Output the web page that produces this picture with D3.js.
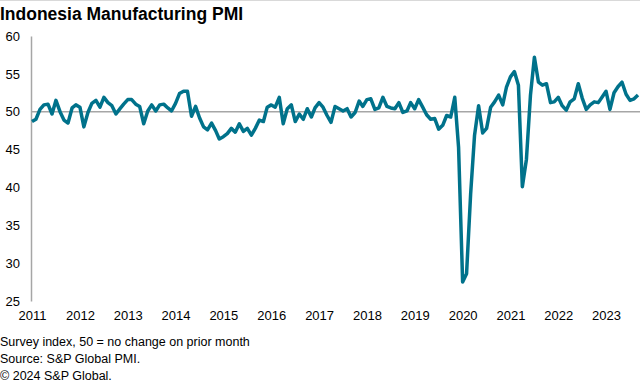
<!DOCTYPE html>
<head>
  <meta charset="utf-8">
  <title>Indonesia Manufacturing PMI</title>
  <style>
    body { margin: 0; background: #fff; }
    svg { font-family: "Liberation Sans", Arial, sans-serif; display: block; }
  </style>
</head>
<body>
<script src="https://cdn.jsdelivr.net/npm/d3@7"></script>
<script>

    // monthly PMI, Apr 2011 - Dec 2023
    var startMonth = "2011-04";
    var pmi2011 = [48.7, 49.0, 50.3, 50.9, 51.0, 49.7, 51.5, 50.0, 48.9];
    var pmi2012 = [48.5, 50.5, 50.9, 50.6, 48.0, 49.9, 51.1, 51.5, 50.6, 51.9, 51.2, 50.8];
    var pmi2013 = [49.7, 50.4, 51.0, 51.6, 51.6, 51.0, 50.7, 48.4, 50.1, 50.9, 50.1, 50.9];
    var pmi2014 = [51.0, 50.5, 50.1, 51.1, 52.4, 52.7, 52.7, 49.4, 50.7, 49.2, 48.0, 47.6];
    var pmi2015 = [48.5, 47.5, 46.4, 46.7, 47.1, 47.8, 47.3, 48.4, 47.4, 47.8, 46.9, 47.8];
    var pmi2016 = [48.9, 48.7, 50.6, 50.9, 50.6, 51.9, 48.4, 50.4, 50.9, 48.7, 49.7, 49.0];
    var pmi2017 = [50.4, 49.3, 50.5, 51.2, 50.6, 49.5, 48.6, 50.7, 50.4, 50.1, 50.4, 49.3];
    var pmi2018 = [49.9, 51.4, 50.7, 51.6, 51.7, 50.3, 50.5, 51.9, 50.7, 50.5, 50.4, 51.2];
    var pmi2019 = [49.9, 50.1, 51.2, 50.4, 51.6, 50.6, 49.6, 49.0, 49.1, 47.7, 48.2, 49.5];
    var pmi2020 = [49.3, 51.9, 45.3, 27.5, 28.6, 39.1, 46.9, 50.8, 47.2, 47.8, 50.6, 51.3];
    var pmi2021 = [52.2, 50.9, 53.2, 54.6, 55.3, 53.5, 40.1, 43.7, 52.2, 57.2, 53.9, 53.5];
    var pmi2022 = [53.7, 51.2, 51.3, 51.9, 50.8, 50.2, 51.3, 51.7, 53.7, 51.8, 50.3, 50.9];
    var pmi2023 = [51.3, 51.2, 51.9, 52.7, 50.3, 52.5, 53.3, 53.9, 52.3, 51.5, 51.7, 52.2];

    var yTicks = [25, 30, 35, 40, 45, 50, 55, 60];
    var yearLabels = ["2011", "2012", "2013", "2014", "2015", "2016", "2017",
                      "2018", "2019", "2020", "2021", "2022", "2023"];
    var notes = ["Survey index, 50 = no change on prior month",
                 "Source: S&P Global PMI.",
                 "\u00a9 2024 S&P Global."];

    var values = [].concat(pmi2011, pmi2012, pmi2013, pmi2014, pmi2015, pmi2016,
                           pmi2017, pmi2018, pmi2019, pmi2020, pmi2021, pmi2022, pmi2023);

    var parseMonth = d3.timeParse("%Y-%m");
    var data = values.map(function(v, i) {
        return { date: d3.timeMonth.offset(parseMonth(startMonth), i), value: v };
    });

    var width = 640, height = 384;
    var plot = { left: 31, right: 638, top: 36, bottom: 301 };

    var x = d3.scaleTime()
        .domain(d3.extent(data, function(d) { return d.date; }))
        .range([plot.left + 1, plot.right]);

    var y = d3.scaleLinear()
        .domain([25, 60])
        .range([plot.bottom, plot.top]);

    var svg = d3.select("body").append("svg")
        .attr("width", width)
        .attr("height", height);

    // thin rule along the top edge
    svg.append("line")
        .attr("x1", 0).attr("x2", width)
        .attr("y1", 0.5).attr("y2", 0.5)
        .style("stroke", "#d9d9d9");

    svg.append("text")
        .attr("x", 0)
        .attr("y", 20)
        .style("font-size", "17.5px")
        .style("font-weight", "bold")
        .style("fill", "#000")
        .text("Indonesia Manufacturing PMI");

    // y axis
    var yAxis = svg.append("g")
        .attr("transform", "translate(" + plot.left + ",0)")
        .call(d3.axisLeft(y).tickValues(yTicks).tickSize(0).tickPadding(11));
    yAxis.select(".domain").style("stroke", "#a6a6a6").style("stroke-width", 1.5);
    yAxis.selectAll("text")
        .style("font-size", "13px")
        .style("fill", "#000")
        .style("font-family", "Liberation Sans, Arial, sans-serif");

    // year labels, one every 12 months from the first point
    var labelDates = yearLabels.map(function(t, i) {
        return d3.timeMonth.offset(parseMonth(startMonth), i * 12);
    });
    var xAxis = svg.append("g")
        .attr("transform", "translate(0," + plot.bottom + ")")
        .call(d3.axisBottom(x).tickValues(labelDates).tickSize(0).tickPadding(10)
              .tickFormat(function(d, i) { return yearLabels[i]; }));
    xAxis.select(".domain").remove();
    xAxis.selectAll("text")
        .style("font-size", "13px")
        .style("fill", "#000")
        .style("font-family", "Liberation Sans, Arial, sans-serif");

    // 50 = no change
    svg.append("line")
        .attr("x1", plot.left).attr("x2", width)
        .attr("y1", y(50)).attr("y2", y(50))
        .style("stroke", "#a6a6a6")
        .style("stroke-width", 1.5);

    var line = d3.line()
        .x(function(d) { return x(d.date); })
        .y(function(d) { return y(d.value); });

    svg.append("path")
        .datum(data)
        .attr("d", line)
        .style("fill", "none")
        .style("stroke", "#00728b")
        .style("stroke-width", 3.5)
        .style("stroke-linejoin", "round");

    svg.selectAll(".note")
        .data(notes)
        .enter().append("text")
        .attr("class", "note")
        .attr("x", 0)
        .attr("y", function(d, i) { return 346 + i * 17; })
        .style("font-size", "12.5px")
        .style("fill", "#000")
        .text(function(d) { return d; });

</script>
</body>
